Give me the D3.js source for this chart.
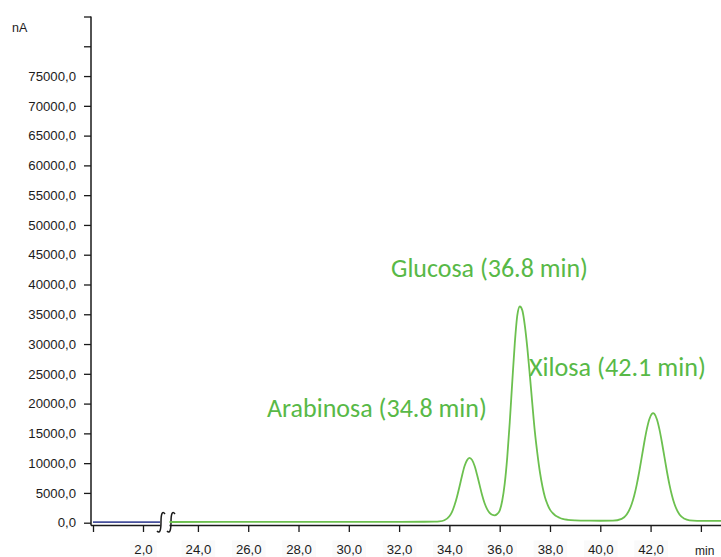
<!DOCTYPE html>
<html>
<head>
<meta charset="utf-8">
<script src="https://cdn.jsdelivr.net/npm/d3@7"></script>
<style>
  html, body { margin: 0; padding: 0; background: #fff; }
  svg { display: block; }
</style>
</head>
<body>
<svg id="chart" width="721" height="557"></svg>
<script>
// Early segment of the run (before the axis break), minutes / nA
const earlyTime   = [0, 0.7, 1.4, 2.0, 2.68];
const earlySignal = [110, 100, 110, 100, 110];

// Main segment of the chromatogram, minutes / nA
const mainTime = [
  22.87, 25.0, 28.0, 31.0, 33.0, 33.4, 33.6, 33.8,
  34.0, 34.1, 34.2, 34.3, 34.4, 34.5, 34.6, 34.7, 34.8, 34.9,
  35.0, 35.1, 35.2, 35.3, 35.4, 35.5, 35.6, 35.7, 35.8, 35.9,
  36.0, 36.1, 36.2, 36.3, 36.4, 36.5, 36.6, 36.7, 36.8, 36.9,
  37.0, 37.1, 37.2, 37.3, 37.4, 37.5, 37.6, 37.7, 37.8, 37.9,
  38.0, 38.1, 38.2, 38.3, 38.4, 38.5, 38.7, 39.0, 39.5, 40.0,
  40.5, 40.85, 41.05, 41.25, 41.35, 41.45, 41.55, 41.65, 41.75, 41.85,
  41.95, 42.05, 42.1, 42.15, 42.25, 42.35, 42.45, 42.55, 42.65, 42.75,
  42.85, 42.95, 43.15, 43.35, 43.55, 43.85, 44.8
];
const mainSignal = [
  120, 130, 130, 140, 160, 180, 220, 410,
  1090, 1780, 2880, 4310, 6030, 7850, 9470, 10500, 10900, 10550,
  9550, 8050, 6350, 4650, 3260, 2280, 1660, 1330, 1240, 1460,
  2030, 3680, 6560, 10980, 16870, 23640, 30110, 34800, 36300, 35650,
  33100, 29300, 24700, 19830, 15200, 11560, 8470, 6080, 4280, 3090,
  2200, 1650, 1260, 990, 790, 650, 490, 390, 340, 330,
  340, 650, 1380, 3130, 4560, 6400, 8600, 11040, 13510, 15710,
  17380, 18280, 18400, 18280, 17380, 15710, 13510, 11040, 8600, 6400,
  4560, 3130, 1380, 650, 400, 320, 300
];

// Peak annotations
const peakNames = ["Arabinosa (34.8 min)", "Glucosa (36.8 min)", "Xilosa (42.1 min)"];
const peakTimes = [34.8, 36.8, 42.1];

// Axis ticks
const yTicks = d3.range(0, 85001, 5000);
const yLabelMax = 75000;
const xTicksEarly = [0, 2];
const xTicksMain = [24, 26, 28, 30, 32, 34, 36, 38, 40, 42, 44];
const xLabelled = [2, 24, 26, 28, 30, 32, 34, 36, 38, 40, 42];

const svg = d3.select("#chart");
const axisColor = "#1a1a1a";
const lineGreen = "#6cc04f";
const textGreen = "#58b947";
const lineBlue = "#46509c";
const tickFont = "'Liberation Sans', Arial, sans-serif";

const yAxisX = 91;
const xAxisY = 525.5;

const y = d3.scaleLinear().domain([0, 85000]).range([522.7, 16.5]);
const xEarly = d3.scaleLinear().domain([0, 2.68]).range([93, 160]);
const xMain = d3.scaleLinear().domain([22.87, 44.8]).range([169.5, 721]);

const fmt = d => d3.format(".1f")(d).replace(".", ",");

// Y axis
const yAxis = d3.axisLeft(y)
  .tickValues(yTicks)
  .tickSize(7)
  .tickPadding(8)
  .tickSizeOuter(0)
  .tickFormat(d => d <= yLabelMax ? fmt(d) : "");
const gy = svg.append("g").attr("transform", `translate(${yAxisX},0)`).call(yAxis);
gy.select(".domain").remove();
gy.selectAll(".tick line").attr("stroke", axisColor).attr("stroke-width", 1.3);
gy.selectAll(".tick text")
  .attr("fill", "#1c1c1c").attr("font-family", tickFont).attr("font-size", 13.2);
svg.append("line")
  .attr("x1", yAxisX).attr("x2", yAxisX)
  .attr("y1", y(85000)).attr("y2", xAxisY)
  .attr("stroke", axisColor).attr("stroke-width", 1.5);

svg.append("text").text("nA")
  .attr("x", 12).attr("y", 31.5)
  .attr("font-family", tickFont).attr("font-size", 12.5).attr("fill", "#1c1c1c");

// X axes (two segments around the break)
function drawXAxis(scale, ticks, x0, x1) {
  const ax = d3.axisBottom(scale)
    .tickValues(ticks)
    .tickSize(6.5)
    .tickPadding(13)
    .tickSizeOuter(0)
    .tickFormat(d => xLabelled.includes(d) ? fmt(d) : "");
  const g = svg.append("g").attr("transform", `translate(0,${xAxisY})`).call(ax);
  g.select(".domain").remove();
  g.selectAll(".tick line").attr("stroke", axisColor).attr("stroke-width", 1.3);
  g.selectAll(".tick text")
    .attr("fill", "#1c1c1c").attr("font-family", tickFont).attr("font-size", 13.2);
  // faint label boxes
  g.selectAll(".tick").each(function (d) {
    if (!xLabelled.includes(d)) return;
    const t = d3.select(this).select("text");
    const bb = t.node().getBBox();
    d3.select(this).insert("rect", "text")
      .attr("x", bb.x - 4).attr("y", bb.y - 2)
      .attr("width", bb.width + 8).attr("height", bb.height + 4)
      .attr("fill", "#fafafa");
  });
  svg.append("line")
    .attr("x1", x0).attr("x2", x1)
    .attr("y1", xAxisY).attr("y2", xAxisY)
    .attr("stroke", axisColor).attr("stroke-width", 1.5);
}
drawXAxis(xEarly, xTicksEarly, yAxisX, 160.5);
drawXAxis(xMain, xTicksMain, 169.5, 721);

svg.append("text").text("min")
  .attr("x", 695).attr("y", 555)
  .attr("font-family", tickFont).attr("font-size", 12).attr("fill", "#1c1c1c");

// Axis break marks
[161, 171].forEach(bx => {
  svg.append("path")
    .attr("d", `M${bx + 4},514 C${bx + 1},510 ${bx},515 ${bx},522 C${bx},529 ${bx - 1},534.5 ${bx - 4},531`)
    .attr("fill", "none").attr("stroke", axisColor).attr("stroke-width", 1.5);
});

// Signal traces
const earlyPts = earlyTime.map((t, i) => [t, earlySignal[i]]);
const mainPts = mainTime.map((t, i) => [t, mainSignal[i]]);

svg.append("path")
  .datum(earlyPts)
  .attr("d", d3.line().x(d => xEarly(d[0])).y(d => y(d[1])).curve(d3.curveMonotoneX))
  .attr("fill", "none").attr("stroke", lineBlue).attr("stroke-width", 1.8);

svg.append("path")
  .datum(mainPts)
  .attr("d", d3.line().x(d => xMain(d[0])).y(d => y(d[1])).curve(d3.curveMonotoneX))
  .attr("fill", "none").attr("stroke", lineGreen).attr("stroke-width", 1.8);

// Peak labels
const labelFont = "Carlito, Calibri, Lato, 'Open Sans', sans-serif";
const labelBox = [
  { x: 267, y: 416.5, w: 220 },
  { x: 391, y: 276.5, w: 197 },
  { x: 529, y: 375.5, w: 177 }
];
peakNames.forEach((name, i) => {
  const b = labelBox[i];
  const t = svg.append("text").text(name)
    .attr("x", b.x).attr("y", b.y)
    .attr("font-family", labelFont).attr("font-size", 20)
    .attr("fill", textGreen)
    .attr("data-time", peakTimes[i]);
  const w = t.node().getComputedTextLength();
  t.attr("font-size", 20 * b.w / w);
});
</script>
</body>
</html>
